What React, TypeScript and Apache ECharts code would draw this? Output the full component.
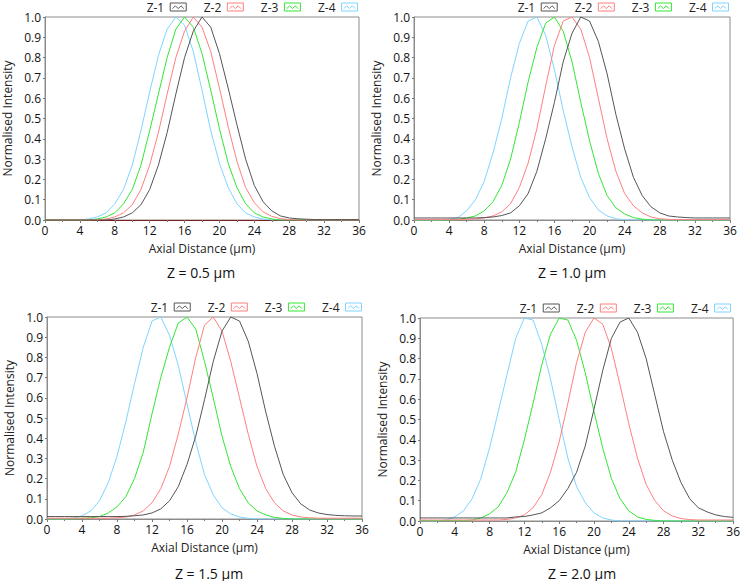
import React, { useEffect, useRef } from "react";
import * as echarts from "echarts";

// Axial distance positions (µm)
const axialDistance: number[] = Array.from({ length: 37 }, (_, i) => i);

const seriesNames = ["Z-1", "Z-2", "Z-3", "Z-4"];
const seriesColors = ["#555555", "#ff7f7f", "#33e633", "#7fd4ff"];
const captions = ["Z = 0.5 µm", "Z = 1.0 µm", "Z = 1.5 µm", "Z = 2.0 µm"];
const xTicks = [0, 4, 8, 12, 16, 20, 24, 28, 32, 36];

// Panel 1: Z = 0.5 µm
const p1z1 = [0, 0, 0, 0, 0, 0, 0, 0, 0.005, 0.015, 0.035, 0.075, 0.15, 0.27, 0.43, 0.62, 0.8, 0.93, 1.0, 0.95, 0.82, 0.65, 0.47, 0.3, 0.17, 0.09, 0.045, 0.02, 0.01, 0.006, 0.004, 0.002, 0.002, 0.002, 0.002, 0.002, 0.002];
const p1z2 = [0, 0, 0, 0, 0, 0, 0, 0.005, 0.015, 0.035, 0.075, 0.15, 0.27, 0.43, 0.62, 0.8, 0.93, 1.0, 0.95, 0.83, 0.65, 0.46, 0.29, 0.16, 0.085, 0.04, 0.018, 0.007, 0.002, 0, 0, 0, 0, 0, 0, 0, 0];
const p1z3 = [0, 0, 0, 0, 0, 0, 0.005, 0.015, 0.035, 0.08, 0.15, 0.27, 0.44, 0.62, 0.8, 0.94, 1.0, 0.95, 0.82, 0.64, 0.45, 0.28, 0.16, 0.08, 0.035, 0.015, 0.005, 0, 0, 0, 0, 0, 0, 0, 0, 0, 0];
const p1z4 = [0, 0, 0, 0, 0, 0.005, 0.015, 0.035, 0.08, 0.15, 0.27, 0.44, 0.63, 0.81, 0.94, 1.0, 0.96, 0.83, 0.64, 0.44, 0.28, 0.16, 0.08, 0.035, 0.015, 0.005, 0, 0, 0, 0, 0, 0, 0, 0, 0, 0, 0];

// Panel 2: Z = 1.0 µm
const p2z1 = [0.01, 0.01, 0.01, 0.01, 0.01, 0.01, 0.01, 0.01, 0.012, 0.015, 0.022, 0.035, 0.07, 0.13, 0.24, 0.4, 0.58, 0.78, 0.92, 1.0, 0.98, 0.88, 0.72, 0.52, 0.35, 0.21, 0.12, 0.065, 0.035, 0.02, 0.015, 0.012, 0.01, 0.01, 0.01, 0.01, 0.01];
const p2z2 = [0.003, 0.003, 0.003, 0.003, 0.003, 0.003, 0.003, 0.005, 0.01, 0.02, 0.04, 0.08, 0.16, 0.28, 0.45, 0.66, 0.86, 0.98, 1.0, 0.94, 0.8, 0.6, 0.4, 0.24, 0.13, 0.07, 0.035, 0.015, 0.006, 0.003, 0.002, 0.002, 0.002, 0.002, 0.002, 0.002, 0.002];
const p2z3 = [0, 0, 0, 0, 0, 0.003, 0.01, 0.02, 0.045, 0.09, 0.17, 0.3, 0.48, 0.68, 0.85, 0.97, 1.0, 0.93, 0.78, 0.58, 0.39, 0.23, 0.12, 0.06, 0.03, 0.012, 0.004, 0, 0, 0, 0, 0, 0, 0, 0, 0, 0];
const p2z4 = [0, 0, 0, 0, 0.003, 0.012, 0.045, 0.1, 0.19, 0.33, 0.5, 0.7, 0.87, 0.98, 1.0, 0.91, 0.74, 0.54, 0.36, 0.21, 0.11, 0.05, 0.02, 0.006, 0.001, 0, 0, 0, 0, 0, 0, 0, 0, 0, 0, 0, 0];

// Panel 3: Z = 1.5 µm
const p3z1 = [0.012, 0.012, 0.012, 0.012, 0.012, 0.012, 0.012, 0.012, 0.012, 0.013, 0.016, 0.02, 0.03, 0.05, 0.09, 0.16, 0.27, 0.41, 0.59, 0.78, 0.93, 1.0, 0.98, 0.88, 0.72, 0.53, 0.36, 0.22, 0.13, 0.075, 0.045, 0.03, 0.022, 0.018, 0.016, 0.015, 0.015];
const p3z2 = [0.004, 0.004, 0.004, 0.004, 0.004, 0.004, 0.004, 0.004, 0.006, 0.01, 0.02, 0.04, 0.08, 0.15, 0.26, 0.42, 0.6, 0.8, 0.96, 1.0, 0.93, 0.78, 0.6, 0.42, 0.26, 0.15, 0.08, 0.04, 0.02, 0.01, 0.006, 0.004, 0.004, 0.004, 0.004, 0.004, 0.004];
const p3z3 = [0, 0, 0, 0, 0.003, 0.006, 0.012, 0.03, 0.06, 0.11, 0.2, 0.33, 0.52, 0.7, 0.85, 0.97, 1.0, 0.94, 0.78, 0.6, 0.41, 0.26, 0.15, 0.08, 0.04, 0.02, 0.008, 0.003, 0, 0, 0, 0, 0, 0, 0, 0, 0];
const p3z4 = [0, 0, 0, 0.005, 0.015, 0.04, 0.09, 0.18, 0.31, 0.48, 0.67, 0.85, 0.98, 1.0, 0.91, 0.76, 0.57, 0.38, 0.22, 0.12, 0.055, 0.025, 0.01, 0.003, 0, 0, 0, 0, 0, 0, 0, 0, 0, 0, 0, 0, 0];

// Panel 4: Z = 2.0 µm
const p4z1 = [0.015, 0.015, 0.015, 0.015, 0.015, 0.015, 0.015, 0.015, 0.015, 0.015, 0.015, 0.02, 0.022, 0.03, 0.04, 0.065, 0.1, 0.16, 0.24, 0.37, 0.55, 0.74, 0.9, 0.98, 1.0, 0.93, 0.8, 0.62, 0.44, 0.3, 0.19, 0.11, 0.065, 0.045, 0.03, 0.022, 0.018];
const p4z2 = [0.005, 0.005, 0.005, 0.005, 0.005, 0.005, 0.005, 0.005, 0.005, 0.005, 0.008, 0.015, 0.03, 0.065, 0.13, 0.24, 0.39, 0.58, 0.78, 0.93, 1.0, 0.97, 0.85, 0.67, 0.48, 0.31, 0.18, 0.1, 0.05, 0.025, 0.012, 0.007, 0.005, 0.005, 0.005, 0.005, 0.005];
const p4z3 = [0.002, 0.002, 0.002, 0.002, 0.002, 0.002, 0.005, 0.015, 0.035, 0.07, 0.14, 0.24, 0.4, 0.58, 0.77, 0.92, 1.0, 0.99, 0.89, 0.73, 0.54, 0.36, 0.21, 0.11, 0.05, 0.02, 0.008, 0.003, 0, 0, 0, 0, 0, 0, 0, 0, 0];
const p4z4 = [0, 0, 0, 0.005, 0.02, 0.05, 0.11, 0.21, 0.36, 0.54, 0.72, 0.9, 1.0, 0.99, 0.87, 0.7, 0.5, 0.31, 0.17, 0.09, 0.04, 0.015, 0.005, 0, 0, 0, 0, 0, 0, 0, 0, 0, 0, 0, 0, 0, 0];

const panels = [
  [p1z1, p1z2, p1z3, p1z4],
  [p2z1, p2z2, p2z3, p2z4],
  [p3z1, p3z2, p3z3, p3z4],
  [p4z1, p4z2, p4z3, p4z4],
];

const FONT = "'Open Sans', sans-serif";

// layout per panel (pixels)
const grids = [
  { left: 43, top: 17, width: 316, height: 203 },
  { left: 414, top: 17, width: 316, height: 203 },
  { left: 47, top: 317, width: 315, height: 202 },
  { left: 420, top: 318, width: 315, height: 203 },
];
const legendPos = [
  { right: 385, top: 1 },
  { right: 14, top: 1 },
  { right: 381, top: 301 },
  { right: 12, top: 302 },
];
const captionPos = [
  { x: 201, y: 272 },
  { x: 572, y: 272 },
  { x: 209, y: 573 },
  { x: 582, y: 573 },
];

const ICON = "path://M0,0L20,0L20,10L0,10Z M3,7L6.5,3.5L10,7L13.5,3.5L17,7";

export default function App() {
  const ref = useRef<HTMLDivElement>(null);
  useEffect(() => {
    if (!ref.current) return;
    const chart = echarts.init(ref.current, null, { renderer: "svg" });

    const series: any[] = [];
    panels.forEach((panel, gi) => {
      panel.forEach((vals, si) => {
        series.push({
          name: seriesNames[si],
          type: "line",
          xAxisIndex: gi,
          yAxisIndex: gi,
          symbol: "none",
          z: 10 - si,
          lineStyle: { width: 1, color: seriesColors[si] },
          itemStyle: { color: seriesColors[si] },
          data: axialDistance.map((x, i) => [x, vals[i]]),
        });
      });
    });

    const option: any = {
      animation: false,
      backgroundColor: "#ffffff",
      textStyle: { fontFamily: FONT },
      grid: grids.map((g) => ({
        ...g,
        show: true,
        borderColor: "#8c8c8c",
        borderWidth: 1,
        backgroundColor: "transparent",
        containLabel: false,
      })),
      xAxis: grids.map((_, gi) => ({
        gridIndex: gi,
        type: "value",
        min: 0,
        max: 36,
        interval: 4,
        name: "Axial Distance (µm)",
        nameLocation: "middle",
        nameGap: 22,
        nameTextStyle: { fontSize: 12, color: "#222", fontFamily: FONT },
        axisLine: { lineStyle: { color: gi === 0 ? "#7a2020" : "#8c8c8c", width: 1 } },
        axisTick: { show: true, length: 3, lineStyle: { color: "#777" } },
        minorTick: { show: true, splitNumber: 2, length: 2, lineStyle: { color: "#777" } },
        splitLine: { show: false },
        axisLabel: {
          fontSize: 12,
          color: "#111",
          margin: 4,
          fontFamily: FONT,
          formatter: (v: number) => (xTicks.includes(v) ? String(v) : ""),
        },
      })),
      yAxis: grids.map((_, gi) => ({
        gridIndex: gi,
        type: "value",
        min: 0,
        max: 1,
        interval: 0.1,
        name: "Normalised Intensity",
        nameLocation: "middle",
        nameGap: 32,
        nameTextStyle: { fontSize: 12, color: "#222", fontFamily: FONT },
        axisLine: { show: true, lineStyle: { color: "#8c8c8c", width: 1 } },
        axisTick: { show: true, length: 2, lineStyle: { color: "#777" } },
        splitLine: { show: false },
        axisLabel: {
          fontSize: 12,
          color: "#111",
          margin: 4,
          fontFamily: FONT,
          formatter: (v: number) => v.toFixed(1),
        },
      })),
      legend: legendPos.map((p) => ({
        ...p,
        orient: "horizontal",
        align: "right",
        icon: ICON,
        itemWidth: 16,
        itemHeight: 8,
        itemGap: 17,
        padding: 0,
        selectedMode: false,
        textStyle: { fontSize: 12, color: "#222", fontFamily: FONT, padding: [0, 1, 0, 0] },
        data: seriesNames.map((n, i) => ({
          name: n,
          itemStyle: { color: "rgba(255,255,255,0)", borderColor: seriesColors[i], borderWidth: 1 },
        })),
      })),
      graphic: captions.map((c, i) => ({
        type: "text",
        x: captionPos[i].x,
        y: captionPos[i].y,
        style: {
          text: c,
          fontSize: 14,
          fontFamily: FONT,
          fill: "#111",
          textAlign: "center",
          textVerticalAlign: "middle",
        },
      })),
      series,
    };
    chart.setOption(option);
    return () => chart.dispose();
  }, []);
  return (
    <div
      ref={ref}
      style={{ position: "fixed", left: 0, top: 0, width: 743, height: 581 }}
    />
  );
}
